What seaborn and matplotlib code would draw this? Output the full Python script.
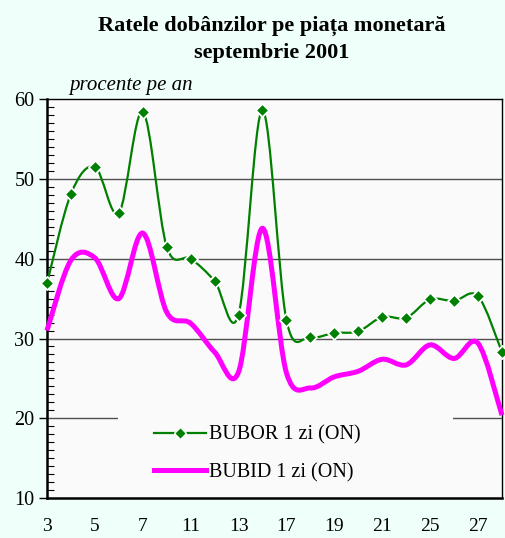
import numpy as np
import pandas as pd
import matplotlib
matplotlib.use("Agg")
import matplotlib.pyplot as plt
from matplotlib.path import Path
from matplotlib.patches import PathPatch, Rectangle
from matplotlib.lines import Line2D
from matplotlib.ticker import MultipleLocator
import seaborn as sns

# days of September 2001 (trading days only)
days = [3, 4, 5, 6, 7, 10, 11, 12, 13, 14, 17, 18, 19, 20, 21, 24, 25, 26, 27, 28]
bubor = [36.9, 48.1, 51.5, 45.7, 58.4, 41.5, 40.0, 37.2, 33.0, 58.6,
         32.3, 30.2, 30.7, 30.9, 32.7, 32.6, 34.9, 34.7, 35.3, 28.3]
bubid = [31.0, 39.8, 40.1, 35.0, 43.2, 33.3, 31.9, 28.3, 25.8, 43.8,
         25.7, 23.8, 25.2, 25.9, 27.4, 26.7, 29.2, 27.5, 29.4, 20.4]
tick_labels = ["3", "5", "7", "11", "13", "17", "19", "21", "25", "27"]

df = pd.DataFrame({"day": days, "pos": range(len(days)), "BUBOR": bubor, "BUBID": bubid})

BG = "#effffa"
PLOT_BG = "#fafafa"


# smoothed line like a spreadsheet chart (Catmull-Rom turned into bezier segments)
def smooth_path(x, y):
    pts = np.column_stack([x, y]).astype(float)
    n = len(pts)
    verts = [pts[0]]
    codes = [Path.MOVETO]
    for i in range(n - 1):
        p0 = pts[max(i - 1, 0)]
        p1 = pts[i]
        p2 = pts[i + 1]
        p3 = pts[min(i + 2, n - 1)]
        verts += [p1 + (p2 - p0) / 6, p2 - (p3 - p1) / 6, p2]
        codes += [Path.CURVE4] * 3
    return Path(verts, codes)


plt.rcParams["font.family"] = ["Liberation Serif", "DejaVu Serif"]
fig = plt.figure(figsize=(5.05, 5.38), dpi=100, facecolor=BG)
ax = fig.add_axes([0.093, 0.074, 0.901, 0.742])
ax.set_facecolor(PLOT_BG)

ax.set_xlim(0, len(days) - 1)
ax.set_ylim(10, 60)

# gridlines
for v in [20, 30, 40, 50]:
    ax.axhline(v, color="#505050", lw=1, zorder=1)

ax.add_patch(PathPatch(smooth_path(df["pos"], df["BUBOR"]), fill=False,
                       edgecolor="#008000", lw=1.6, zorder=3, clip_on=False))
ax.add_patch(PathPatch(smooth_path(df["pos"], df["BUBID"]), fill=False,
                       edgecolor="#ff00ff", lw=3.6, zorder=4, clip_on=False))
sns.scatterplot(data=df, x="pos", y="BUBOR", marker="D", s=45, color="#008000",
                edgecolor="white", linewidth=1.3, zorder=5, clip_on=False, ax=ax,
                legend=False)

ax.set_xticks(range(0, len(days), 2))
ax.set_xticklabels(tick_labels)
ax.tick_params(axis="x", length=0, pad=14, labelsize=14)
ax.yaxis.set_major_locator(MultipleLocator(10))
ax.yaxis.set_minor_locator(MultipleLocator(1))
ax.tick_params(axis="y", which="major", direction="out", length=6, width=1, labelsize=14.5, pad=3)
ax.tick_params(axis="y", which="minor", direction="in", length=5, width=0.8)
ax.set_xlabel("")
ax.set_ylabel("")
for side in ["left", "bottom"]:
    ax.spines[side].set_linewidth(1.8)
for side in ["top", "right"]:
    ax.spines[side].set_linewidth(1.0)

# legend area box (hides the gridline behind it)
ax.add_patch(Rectangle((0.156, 0.02), 0.736, 0.2, transform=ax.transAxes,
                       facecolor=PLOT_BG, edgecolor="none", zorder=2))

handles = [
    Line2D([], [], color="#008000", lw=1.6, marker="D", markersize=6,
           markeredgecolor="white", markeredgewidth=1.0),
    Line2D([], [], color="#ff00ff", lw=3.6),
]
leg = ax.legend(handles, ["BUBOR 1 zi (ON)", "BUBID 1 zi (ON)"],
                loc="lower left", bbox_to_anchor=(0.2, 0.0), fontsize=14.5,
                frameon=False, handlelength=2.6, borderpad=0.5, labelspacing=0.9,
                borderaxespad=0.3, handletextpad=0.15)
leg.set_zorder(6)

fig.text(0.538, 0.952, "Ratele dobânzilor pe piața monetară", ha="center", va="center",
         fontsize=16, fontweight="bold")
fig.text(0.538, 0.902, "septembrie 2001", ha="center", va="center",
         fontsize=16, fontweight="bold")
fig.text(0.138, 0.842, "procente pe an", ha="left", va="center",
         fontsize=15, style="italic")

fig.savefig("out.png", dpi=100, facecolor=BG)
